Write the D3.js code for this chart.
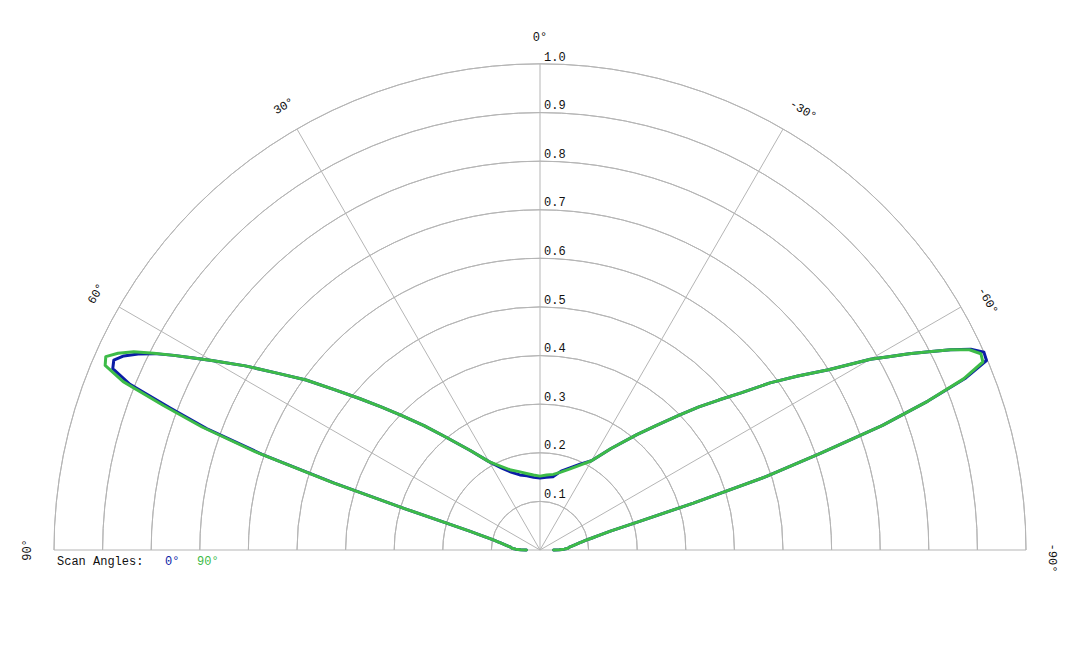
<!DOCTYPE html>
<html>
<head>
<meta charset="utf-8">
<script src="https://cdn.jsdelivr.net/npm/d3@7"></script>
<style>
  html, body { margin: 0; padding: 0; background: #fff; }
  svg { display: block; }
  text { font-family: "Liberation Mono", "Courier New", monospace; font-size: 12px; fill: #111; }
</style>
</head>
<body>
<svg id="chart" width="1080" height="648"></svg>
<script>
// ---- data (angles in degrees; positive = left side) ----
const angles = [-90,-89,-88,-87,-86,-85,-84,-83,-82,-81,-80,-79,-78,-77,-76,-75,-74,-73,-72,-71,-70,-69,-68,-67,-66,-65,-64,-63,-62,-61,-60,
  -58,-56,-54,-52,-50,-48,-46,-43,-40,-35,-30,-25,-20,-15,-10,-5,
  0,
  5,10,15,20,25,30,35,40,43,46,48,50,52,54,56,58,
  60,61,62,63,64,65,66,67,68,69,70,71,72,73,74,75,76,77,78,79,80,81,82,83,84,85,86,87,88,89,90];

const scan0 = [0.028,0.04,0.05,0.056,0.058,0.06,0.062,0.066,0.07,0.075,0.081,0.088,0.097,0.11,0.125,0.15,0.21,0.33,0.49,0.61,0.75,0.855,0.945,0.998,1.0,0.978,0.94,0.898,0.86,0.82,0.785,
  0.70,0.64,0.585,0.525,0.48,0.44,0.40,0.35,0.31,0.255,0.212,0.195,0.18,0.168,0.153,0.15,
  0.148,
  0.15,0.155,0.16,0.17,0.186,0.21,0.25,0.305,0.35,0.40,0.44,0.485,0.535,0.595,0.65,0.715,
  0.78,0.815,0.853,0.89,0.92,0.945,0.96,0.955,0.91,0.815,0.73,0.605,0.445,0.29,0.2,0.15,0.125,0.11,0.097,0.088,0.081,0.075,0.07,0.066,0.062,0.06,0.058,0.056,0.05,0.04,0.028];

const scan90 = [0.028,0.04,0.05,0.056,0.058,0.06,0.062,0.066,0.07,0.075,0.081,0.088,0.097,0.11,0.125,0.15,0.21,0.33,0.49,0.61,0.75,0.855,0.94,0.99,0.993,0.975,0.94,0.898,0.86,0.82,0.785,
  0.70,0.64,0.585,0.525,0.48,0.44,0.40,0.35,0.31,0.255,0.212,0.192,0.177,0.166,0.158,0.155,
  0.152,
  0.155,0.16,0.167,0.175,0.19,0.21,0.25,0.305,0.35,0.40,0.44,0.485,0.535,0.595,0.65,0.715,
  0.78,0.815,0.853,0.892,0.93,0.958,0.978,0.972,0.925,0.83,0.74,0.615,0.45,0.29,0.2,0.15,0.125,0.11,0.097,0.088,0.081,0.075,0.07,0.066,0.062,0.06,0.058,0.056,0.05,0.04,0.028];

const radialTicks = [0.1,0.2,0.3,0.4,0.5,0.6,0.7,0.8,0.9,1.0];
const radialTickLabels = ["0.1","0.2","0.3","0.4","0.5","0.6","0.7","0.8","0.9","1.0"];
const spokeAngles = [-60,-30,0,30,60];
const angleLabelValues = [90,60,30,0,-30,-60,-90];
const angleLabelTexts = ["90°","60°","30°","0°","-30°","-60°","-90°"];
const seriesNames = ["0°","90°"];
const seriesColors = ["#0b1da6","#3dbb48"];

// ---- layout ----
const svg = d3.select("#chart");
const cx = 540, cy = 550, R = 486;
const g = svg.append("g").attr("transform", `translate(${cx},${cy})`);

const rScale = d3.scaleLinear().domain([0, 1]).range([0, R]);
// d3 radial angle: clockwise from 12 o'clock; positive data angles go to the left
const aScale = d3.scaleLinear().domain([-90, 90]).range([Math.PI / 2, -Math.PI / 2]);

const gridColor = "#b5b5b5";

// rings
const arc = d3.arc().startAngle(-Math.PI / 2).endAngle(Math.PI / 2);
g.selectAll("path.ring").data(radialTicks).enter().append("path")
  .attr("class", "ring")
  .attr("d", d => arc({innerRadius: rScale(d), outerRadius: rScale(d)}))
  .attr("fill", "none").attr("stroke", gridColor).attr("stroke-width", 1);

// baseline (±90° spokes)
g.append("line").attr("x1", -rScale(1)).attr("x2", rScale(1)).attr("y1", 0).attr("y2", 0)
  .attr("stroke", gridColor).attr("stroke-width", 1);

// spokes
g.selectAll("line.spoke").data(spokeAngles).enter().append("line")
  .attr("class", "spoke")
  .attr("x1", 0).attr("y1", 0)
  .attr("x2", d => rScale(1) * Math.sin(aScale(d)))
  .attr("y2", d => -rScale(1) * Math.cos(aScale(d)))
  .attr("stroke", gridColor).attr("stroke-width", 1);

// radial tick labels
g.selectAll("text.rtick").data(radialTicks).enter().append("text")
  .attr("class", "rtick")
  .attr("x", 4)
  .attr("y", d => -rScale(d) - 3.5)
  .text((d, i) => radialTickLabels[i]);

// angle labels
const labelR = 509;
g.selectAll("text.alabel").data(angleLabelValues).enter().append("text")
  .attr("class", "alabel")
  .attr("text-anchor", "middle")
  .attr("transform", d => {
    const a = aScale(d) + (d < 0 ? 0.9 * Math.PI / 180 : 0);
    const x = labelR * Math.sin(a), y = -labelR * Math.cos(a);
    return `translate(${x},${y}) rotate(${a * 180 / Math.PI})`;
  })
  .text((d, i) => angleLabelTexts[i]);

// series lines
const line = d3.lineRadial()
  .angle(d => aScale(d[0]))
  .radius(d => rScale(d[1]))
  .curve(d3.curveLinear);

[scan0, scan90].forEach((vals, i) => {
  const pts = angles.map((a, j) => [a, vals[j]]);
  g.append("path")
    .attr("d", line(pts))
    .attr("fill", "none")
    .attr("stroke", seriesColors[i])
    .attr("stroke-width", 3)
    .attr("stroke-linejoin", "round")
    .attr("stroke-linecap", "round");
});

// legend
const legend = svg.append("text").attr("x", 57).attr("y", 565);
legend.append("tspan").text("Scan Angles:");
const legendX = [165, 197];
seriesNames.forEach((n, i) => {
  svg.append("text").attr("x", legendX[i]).attr("y", 565)
    .style("fill", seriesColors[i]).text(n);
});
</script>
</body>
</html>
